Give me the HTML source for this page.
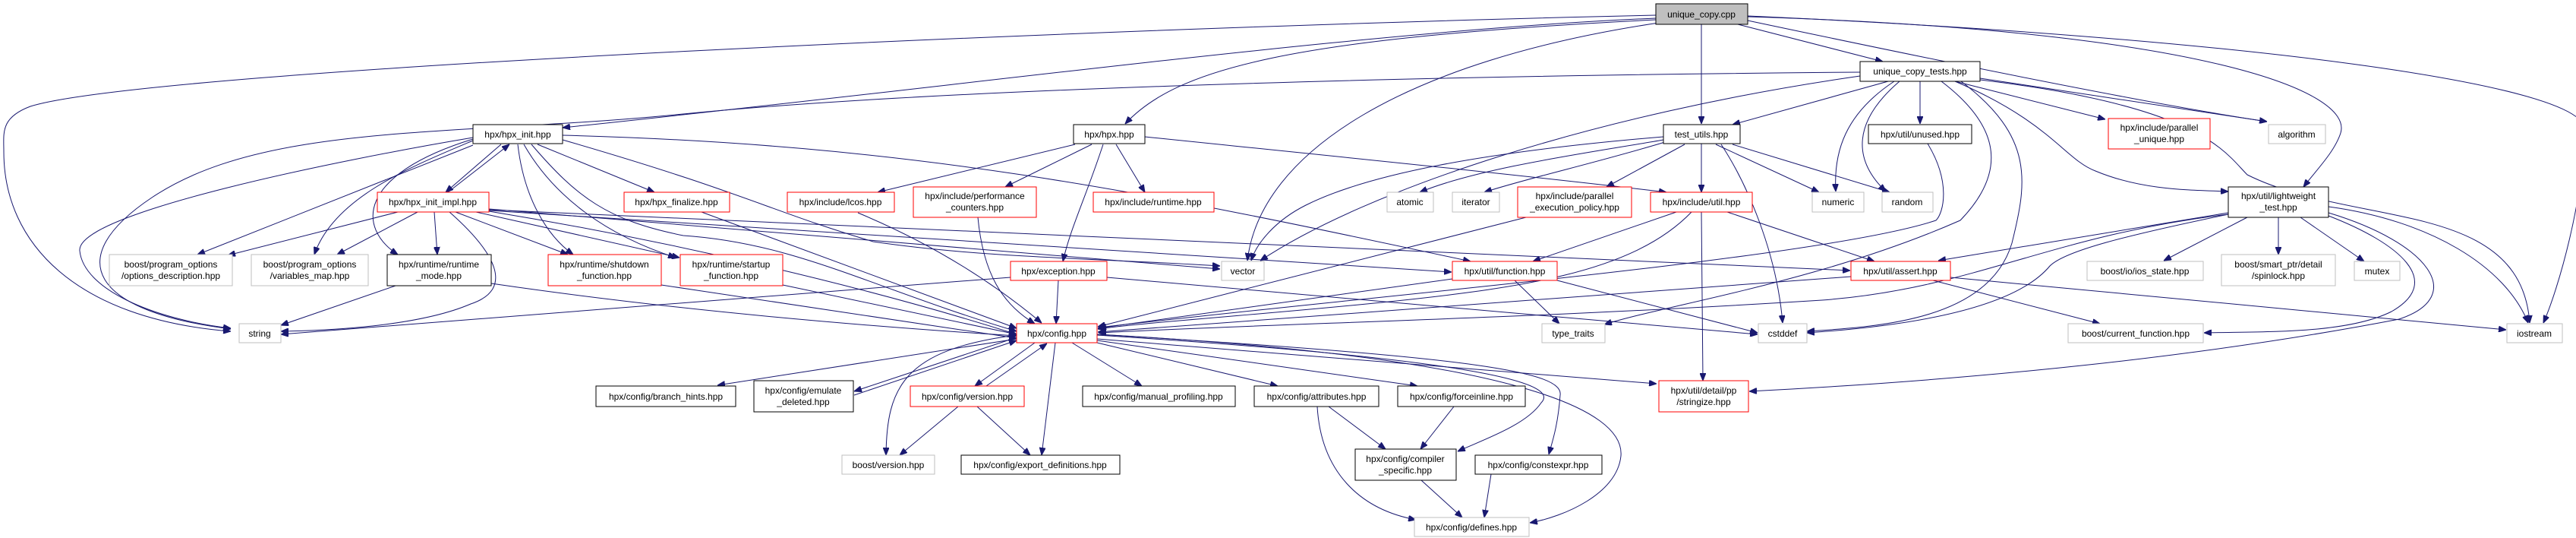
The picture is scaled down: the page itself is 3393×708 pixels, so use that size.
<!DOCTYPE html>
<html><head><meta charset="utf-8"><style>
html,body{margin:0;padding:0;background:#fff;}
svg{display:block;}
text{font-family:"Liberation Sans",Arial,sans-serif;font-size:12px;fill:#000;text-anchor:middle;}
.e{fill:none;stroke:#191970;stroke-width:1;marker-end:url(#a);}
.k{fill:#fff;stroke:#000;stroke-width:1;}
.r{fill:#fff;stroke:#ff0000;stroke-width:1;}
.g{fill:#fff;stroke:#bfbfbf;stroke-width:1;}
</style></head><body>
<svg width="3393" height="708" viewBox="0 0 3393 708" xmlns="http://www.w3.org/2000/svg">
<defs><marker id="a" markerWidth="10" markerHeight="8" refX="10" refY="4" orient="auto" markerUnits="userSpaceOnUse"><path d="M0,0 L10,4 L0,8 z" fill="#191970" stroke="#191970"/></marker></defs>
<g>
<!-- unique_copy.cpp edges -->
<path class="e" d="M2181,20 C1500,35 200,90 40,140 C0,155 5,175 5,200 C5,320 100,420 304,436"/>
<path class="e" d="M2181,24 C1800,40 1300,110 741,168"/>
<path class="e" d="M2181,26 C1700,50 1550,90 1482,163"/>
<path class="e" d="M2185,30 C1850,80 1660,200 1643,343"/>
<path class="e" d="M2241,32 L2241,163"/>
<path class="e" d="M2289,32 L2480,81"/>
<path class="e" d="M2302,27 C2600,90 2850,140 2986,160"/>
<path class="e" d="M2302,22 C2900,40 3100,120 3083,175 C3075,200 3050,225 3034,246"/>
<path class="e" d="M2302,21 C2950,50 3405,110 3404,170 C3404,260 3370,380 3350,425"/>
<!-- unique_copy_tests edges -->
<path class="e" d="M2450,95 C1800,100 1200,120 900,150 C600,180 350,160 200,260 C80,340 120,410 304,433"/>
<path class="e" d="M2487,107 L2282,164"/>
<path class="e" d="M2450,100 C2100,150 1800,250 1660,343"/>
<path class="e" d="M2495,107 C2430,150 2415,200 2418,252"/>
<path class="e" d="M2502,107 C2440,160 2440,210 2484,252"/>
<path class="e" d="M2529,107 L2529,163"/>
<path class="e" d="M2575,107 L2773,157"/>
<path class="e" d="M2608,103 L2986,160"/>
<path class="e" d="M2608,105 C2900,140 2930,200 2960,230 C3100,300 3320,260 3332,425"/>
<path class="e" d="M2575,107 C2700,160 2720,210 2760,225 C2820,250 2880,250 2935,252"/>
<path class="e" d="M2583,107 C2680,180 2670,240 2650,320 C2620,420 2480,430 2380,436"/>
<path class="e" d="M2557,107 C2640,170 2640,230 2582,290 C2400,370 2200,400 2113,427"/>
<path class="e" d="M2539,189 C2570,240 2560,280 2550,290 C2400,340 1800,390 1447,431"/>
<!-- hpx_init -->
<path class="e" d="M660,190 L587,253"/>
<path class="e" d="M590,253 L671,190"/>
<path class="e" d="M623,191 L260,335"/>
<path class="e" d="M623,185 C540,220 440,260 414,335"/>
<path class="e" d="M623,183 C470,230 470,300 524,335"/>
<path class="e" d="M623,181 C450,210 100,280 105,330 C110,380 200,420 304,432"/>
<path class="e" d="M682,190 C690,260 720,310 755,335"/>
<path class="e" d="M690,190 C730,260 800,310 890,339"/>
<path class="e" d="M708,190 L862,253"/>
<path class="e" d="M700,190 C760,260 800,290 900,310 C1050,320 1150,380 1339,436"/>
<path class="e" d="M741,178 C1200,190 1500,250 1937,344"/>
<path class="e" d="M741,184 C983,254 1012,277 1150,318 C1300,340 1450,340 1607,350"/>
<!-- hpx_init_impl -->
<path class="e" d="M524,279 L300,336"/>
<path class="e" d="M550,279 L444,335"/>
<path class="e" d="M572,279 L576,335"/>
<path class="e" d="M592,279 C650,330 680,380 620,400 C550,430 430,435 370,436"/>
<path class="e" d="M600,279 L748,335"/>
<path class="e" d="M627,279 L895,339"/>
<path class="e" d="M644,275 L1607,354"/>
<path class="e" d="M644,277 L1912,358"/>
<path class="e" d="M644,276 L2437,356"/>
<path class="e" d="M644,278 C900,320 1150,380 1339,440"/>
<path class="e" d="M521,376 L370,428"/>
<path class="e" d="M647,373 C900,410 1150,430 1339,442"/>
<path class="e" d="M871,375 L1339,445"/>
<path class="e" d="M1031,375 L1339,440"/>
<path class="e" d="M924,279 L1339,432"/>
<path class="e" d="M1130,280 C1250,330 1330,390 1372,425"/>
<path class="e" d="M1288,286 C1295,360 1320,400 1363,426"/>
<!-- hpx.hpp -->
<path class="e" d="M1416,190 L1156,253"/>
<path class="e" d="M1438,190 L1324,246"/>
<path class="e" d="M1470,190 L1508,253"/>
<path class="e" d="M1453,190 C1430,260 1410,300 1400,344"/>
<path class="e" d="M1508,180 C1800,210 2000,230 2195,253"/>
<path class="e" d="M1394,369 L1391,426"/>
<path class="e" d="M1331,365 L370,440"/>
<path class="e" d="M1458,365 L2315,440"/>
<!-- test_utils -->
<path class="e" d="M2191,184 C2100,200 1950,220 1870,253"/>
<path class="e" d="M2193,187 C2100,215 2010,235 1955,253"/>
<path class="e" d="M2219,190 L2116,246"/>
<path class="e" d="M2241,189 L2241,253"/>
<path class="e" d="M2191,180 C1950,200 1800,230 1720,270 C1680,290 1655,320 1648,343"/>
<path class="e" d="M2260,190 L2396,253"/>
<path class="e" d="M2282,190 L2489,253"/>
<path class="e" d="M2267,190 C2300,240 2340,330 2348,425"/>
<!-- include/util -->
<path class="e" d="M2208,279 L2019,344"/>
<path class="e" d="M2228,279 C2150,360 2000,380 1800,400 C1650,415 1500,425 1446,433"/>
<path class="e" d="M2241,279 L2243,501"/>
<path class="e" d="M2275,279 L2469,344"/>
<path class="e" d="M2010,286 L1446,430"/>
<path class="e" d="M1913,367 L1446,432"/>
<path class="e" d="M1995,369 L2054,426"/>
<path class="e" d="M2051,369 L2315,438"/>
<!-- assert -->
<path class="e" d="M2438,364 L1446,437"/>
<path class="e" d="M2546,369 L2766,426"/>
<path class="e" d="M2569,365 L3301,434"/>
<!-- lightweight_test -->
<path class="e" d="M2935,280 L2553,343"/>
<path class="e" d="M2935,282 C2700,310 2600,380 2400,395 C2000,420 1700,425 1447,438"/>
<path class="e" d="M2935,282 C2800,310 2720,330 2700,350 C2650,410 2500,430 2380,438"/>
<path class="e" d="M2960,286 L2850,343"/>
<path class="e" d="M3001,286 L3001,335"/>
<path class="e" d="M3030,286 L3114,344"/>
<path class="e" d="M3067,272 C3200,290 3300,350 3330,425"/>
<path class="e" d="M3067,284 C3160,320 3220,370 3150,410 C3090,440 2980,436 2903,438"/>
<path class="e" d="M3067,280 C3200,320 3250,390 3160,420 C2900,470 2600,500 2304,515"/>
<!-- config.hpp -->
<path class="e" d="M1339,446 L945,507"/>
<path class="e" d="M1339,444 L1125,515"/>
<path class="e" d="M1125,520 L1339,448"/>
<path class="e" d="M1339,441 C1190,460 1168,510 1167,599"/>
<path class="e" d="M1363,451 L1284,508"/>
<path class="e" d="M1299,508 L1379,452"/>
<path class="e" d="M1390,451 L1372,599"/>
<path class="e" d="M1412,451 L1504,508"/>
<path class="e" d="M1445,451 L1683,508"/>
<path class="e" d="M1445,448 L1867,508"/>
<path class="e" d="M1445,446 L2182,505"/>
<path class="e" d="M1445,441 C1900,470 2060,500 2030,530 C2010,560 1950,580 1920,594"/>
<path class="e" d="M1445,440 C1950,470 2060,490 2055,520 C2052,560 2045,580 2040,598"/>
<path class="e" d="M1445,440 C2000,470 2140,540 2135,600 C2130,650 2060,680 2015,688"/>
<path class="e" d="M1262,535 L1185,599"/>
<path class="e" d="M1287,535 L1357,599"/>
<path class="e" d="M1750,535 L1825,591"/>
<path class="e" d="M1735,535 C1740,620 1790,670 1865,684"/>
<path class="e" d="M1915,535 L1871,591"/>
<path class="e" d="M1872,632 L1926,681"/>
<path class="e" d="M1964,624 L1955,681"/>
</g>
<g>
<rect x="2181" y="5" width="121" height="27" fill="#bfbfbf" stroke="#000"/><text x="2241" y="23">unique_copy.cpp</text>
<rect class="k" x="2450" y="81" width="158" height="26"/><text x="2529" y="98">unique_copy_tests.hpp</text>
<rect class="k" x="623" y="164" width="118" height="25"/><text x="682" y="181">hpx/hpx_init.hpp</text>
<rect class="k" x="1414" y="164" width="94" height="25"/><text x="1461" y="181">hpx/hpx.hpp</text>
<rect class="k" x="2191" y="164" width="101" height="25"/><text x="2241" y="181">test_utils.hpp</text>
<rect class="k" x="2461" y="164" width="136" height="25"/><text x="2529" y="181">hpx/util/unused.hpp</text>
<rect class="r" x="2777" y="156" width="134" height="40"/><text x="2844" y="172">hpx/include/parallel</text><text x="2844" y="187">_unique.hpp</text>
<rect class="g" x="2988" y="164" width="75" height="25"/><text x="3025" y="181">algorithm</text>

<rect class="r" x="497" y="253" width="147" height="26"/><text x="570" y="270">hpx/hpx_init_impl.hpp</text>
<rect class="r" x="822" y="253" width="139" height="26"/><text x="891" y="270">hpx/hpx_finalize.hpp</text>
<rect class="r" x="1037" y="253" width="141" height="26"/><text x="1107" y="270">hpx/include/lcos.hpp</text>
<rect class="r" x="1203" y="246" width="162" height="40"/><text x="1284" y="262">hpx/include/performance</text><text x="1284" y="277">_counters.hpp</text>
<rect class="r" x="1440" y="253" width="159" height="26"/><text x="1519" y="270">hpx/include/runtime.hpp</text>
<rect class="g" x="1827" y="253" width="61" height="26"/><text x="1857" y="270">atomic</text>
<rect class="g" x="1913" y="253" width="62" height="26"/><text x="1944" y="270">iterator</text>
<rect class="r" x="1999" y="246" width="150" height="40"/><text x="2074" y="262">hpx/include/parallel</text><text x="2074" y="277">_execution_policy.hpp</text>
<rect class="r" x="2174" y="253" width="134" height="26"/><text x="2241" y="270">hpx/include/util.hpp</text>
<rect class="g" x="2387" y="253" width="68" height="26"/><text x="2421" y="270">numeric</text>
<rect class="g" x="2479" y="253" width="67" height="26"/><text x="2512" y="270">random</text>
<rect class="k" x="2935" y="246" width="132" height="40"/><text x="3001" y="262">hpx/util/lightweight</text><text x="3001" y="277">_test.hpp</text>

<rect class="g" x="144" y="335" width="162" height="41"/><text x="225" y="352">boost/program_options</text><text x="225" y="367">/options_description.hpp</text>
<rect class="g" x="331" y="335" width="154" height="41"/><text x="408" y="352">boost/program_options</text><text x="408" y="367">/variables_map.hpp</text>
<rect class="k" x="510" y="335" width="137" height="41"/><text x="578" y="352">hpx/runtime/runtime</text><text x="578" y="367">_mode.hpp</text>
<rect class="r" x="722" y="335" width="149" height="41"/><text x="796" y="352">hpx/runtime/shutdown</text><text x="796" y="367">_function.hpp</text>
<rect class="r" x="896" y="335" width="135" height="41"/><text x="963" y="352">hpx/runtime/startup</text><text x="963" y="367">_function.hpp</text>
<rect class="r" x="1331" y="344" width="127" height="25"/><text x="1394" y="361">hpx/exception.hpp</text>
<rect class="g" x="1609" y="344" width="56" height="25"/><text x="1637" y="361">vector</text>
<rect class="r" x="1913" y="344" width="138" height="25"/><text x="1982" y="361">hpx/util/function.hpp</text>
<rect class="r" x="2438" y="344" width="131" height="25"/><text x="2503" y="361">hpx/util/assert.hpp</text>
<rect class="g" x="2749" y="344" width="153" height="25"/><text x="2825" y="361">boost/io/ios_state.hpp</text>
<rect class="g" x="2926" y="335" width="150" height="41"/><text x="3001" y="352">boost/smart_ptr/detail</text><text x="3001" y="367">/spinlock.hpp</text>
<rect class="g" x="3101" y="344" width="60" height="25"/><text x="3131" y="361">mutex</text>

<rect class="g" x="315" y="426" width="55" height="25"/><text x="342" y="443">string</text>
<rect class="r" x="1339" y="426" width="106" height="25"/><text x="1392" y="443">hpx/config.hpp</text>
<rect class="g" x="2031" y="426" width="83" height="25"/><text x="2072" y="443">type_traits</text>
<rect class="g" x="2316" y="426" width="64" height="25"/><text x="2348" y="443">cstddef</text>
<rect class="g" x="2724" y="426" width="178" height="25"/><text x="2813" y="443">boost/current_function.hpp</text>
<rect class="g" x="3302" y="426" width="73" height="25"/><text x="3338" y="443">iostream</text>

<rect class="k" x="785" y="508" width="184" height="27"/><text x="877" y="526">hpx/config/branch_hints.hpp</text>
<rect class="k" x="993" y="501" width="131" height="41"/><text x="1058" y="518">hpx/config/emulate</text><text x="1058" y="533">_deleted.hpp</text>
<rect class="r" x="1199" y="508" width="150" height="27"/><text x="1274" y="526">hpx/config/version.hpp</text>
<rect class="k" x="1426" y="508" width="201" height="27"/><text x="1526" y="526">hpx/config/manual_profiling.hpp</text>
<rect class="k" x="1652" y="508" width="164" height="27"/><text x="1734" y="526">hpx/config/attributes.hpp</text>
<rect class="k" x="1841" y="508" width="168" height="27"/><text x="1925" y="526">hpx/config/forceinline.hpp</text>
<rect class="r" x="2185" y="501" width="118" height="41"/><text x="2244" y="518">hpx/util/detail/pp</text><text x="2244" y="533">/stringize.hpp</text>

<rect class="g" x="1109" y="599" width="122" height="25"/><text x="1170" y="616">boost/version.hpp</text>
<rect class="k" x="1266" y="599" width="209" height="25"/><text x="1370" y="616">hpx/config/export_definitions.hpp</text>
<rect class="k" x="1785" y="591" width="133" height="41"/><text x="1851" y="608">hpx/config/compiler</text><text x="1851" y="623">_specific.hpp</text>
<rect class="k" x="1943" y="599" width="167" height="25"/><text x="2026" y="616">hpx/config/constexpr.hpp</text>
<rect class="g" x="1863" y="681" width="151" height="25"/><text x="1938" y="698">hpx/config/defines.hpp</text>
</g>
</svg>
</body></html>
